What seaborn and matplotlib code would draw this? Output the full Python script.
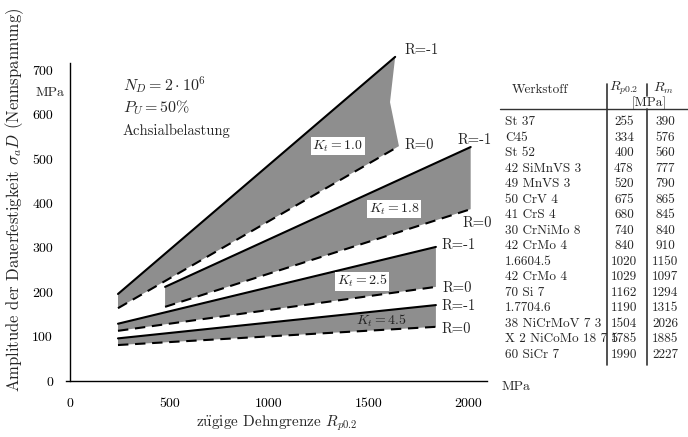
import matplotlib
matplotlib.use("Agg")
import matplotlib.pyplot as plt
import seaborn as sns
import numpy as np
import pandas as pd

# ---------------- data ----------------
kt_labels = ["1.0", "1.8", "2.5", "4.5"]

# R=-1 (upper, solid) lines
up_x = [[240, 1635], [477, 2015], [240, 1840], [240, 1840]]
up_y = [[196, 730], [212, 527], [129, 302], [96, 171]]
# R=0 (lower, dashed) lines
lo_x = [[240, 1654], [477, 2015], [240, 1840], [240, 1840]]
lo_y = [[164, 529], [167, 387], [113, 212], [81, 122]]
# extra vertex on right edge of Kt=1.0 band
kink_x = [1609]
kink_y = [628]

werkstoff = ["St 37", "C45", "St 52", "42 SiMnVS 3", "49 MnVS 3", "50 CrV 4",
             "41 CrS 4", "30 CrNiMo 8", "42 CrMo 4", "1.6604.5", "42 CrMo 4",
             "70 Si 7", "1.7704.6", "38 NiCrMoV 7 3", "X 2 NiCoMo 18 7 5",
             "60 SiCr 7"]
rp02 = ["255", "334", "400", "478", "520", "675", "680", "740", "840", "1020",
        "1029", "1162", "1190", "1504", "1785", "1990"]
rm = ["390", "576", "560", "777", "790", "865", "845", "840", "910", "1150",
      "1097", "1294", "1315", "2026", "1885", "2227"]

x_ticks = [0, 500, 1000, 1500, 2000]
y_ticks = [0, 100, 200, 300, 400, 500, 600, 700]

# ---------------- style ----------------
sns.set_theme(style="white")
plt.rcParams["font.family"] = ["cmr10", "DejaVu Serif"]
plt.rcParams["mathtext.fontset"] = "cm"
plt.rcParams["axes.formatter.use_mathtext"] = True
plt.rcParams["axes.unicode_minus"] = False

W, H = 688, 437
fig = plt.figure(figsize=(W / 100, H / 100), dpi=100)

def fx(px):
    return px / W

def fy(py):
    return 1 - py / H

# pixel mapping: x px = 70.3 + 0.1987*x ; y px = 381 - 0.444*y
sx, sy = 0.1987, 0.444
xlo, xhi = -22, 2097
ylo, yhi = -22.5, 760
x0p = 70.3 + sx * xlo
x1p = 70.3 + sx * xhi
yb = 381 - sy * ylo
yt = 381 - sy * yhi
ax = fig.add_axes([fx(x0p), fy(yb), (x1p - x0p) / W, (yb - yt) / H])
ax.set_xlim(xlo, xhi)
ax.set_ylim(ylo, yhi)

fill_col = "#8e8e8e"
for i in range(len(kt_labels)):
    ux, uy = up_x[i], up_y[i]
    lx, ly = lo_x[i], lo_y[i]
    if i == 0:
        px = ux + kink_x + lx[::-1]
        py = uy + kink_y + ly[::-1]
    else:
        px = ux + lx[::-1]
        py = uy + ly[::-1]
    ax.fill(px, py, color=fill_col, lw=0, zorder=1)
    sns.lineplot(x=ux, y=uy, ax=ax, color="black", lw=1.5, zorder=3)
    sns.lineplot(x=lx, y=ly, ax=ax, color="black", lw=1.5, zorder=3,
                 dashes=False, linestyle=(0, (5, 3.2)))

# spines
for s in ["top", "right"]:
    ax.spines[s].set_visible(False)
ax.spines["left"].set_position(("data", 0))
ax.spines["bottom"].set_position(("data", 0))
ax.spines["left"].set_bounds(0, 716)
ax.spines["bottom"].set_bounds(xlo, xhi)
for s in ["left", "bottom"]:
    ax.spines[s].set_color("black")
    ax.spines[s].set_linewidth(1.0)

ax.set_xticks(x_ticks)
ax.set_yticks(y_ticks)
ax.set_xticklabels([str(v) for v in x_ticks])
ax.set_yticklabels([str(v) for v in y_ticks])
ax.tick_params(axis="both", direction="inout", length=7, width=1.0,
               colors="black", labelsize=10)
ax.tick_params(axis="y", pad=9)
ax.tick_params(axis="x", pad=9)
ax.patch.set_alpha(0)

# labels on curves
lab_fs = 10.5
r_labels = [
    (1684, 745, "R=-1"), (1684, 531, "R=0"),
    (1951, 543, "R=-1"), (1976, 356, "R=0"),
    (1870, 306, "R=-1"), (1875, 209, "R=0"),
    (1870, 169, "R=-1"), (1870, 117, "R=0"),
]
for x, y, t in r_labels:
    ax.text(x, y, t, ha="left", va="center", fontsize=lab_fs, zorder=5)

kt_pos = [(1347, 529, True), (1630, 387, True), (1468, 225, True), (1564, 135, False)]
for (x, y, box), k in zip(kt_pos, kt_labels):
    kw = {}
    if box:
        kw["bbox"] = dict(facecolor="white", edgecolor="none", pad=1.0)
    ax.text(x, y, r"$K_t = %s$" % k, ha="center", va="center", fontsize=10,
            color="#222222", zorder=6, **kw)

# annotations
fig.text(fx(123), fy(85), r"$N_D = 2\cdot 10^6$", ha="left", va="center", fontsize=11.5)
fig.text(fx(123), fy(108), r"$P_U = 50\%$", ha="left", va="center", fontsize=11.5)
fig.text(fx(123), fy(131), "Achsialbelastung", ha="left", va="center", fontsize=10.5)

# axis titles
fig.text(fx(15), fy(200), r"Amplitude der Dauerfestigkeit $\sigma_a D$ (Nennspannung)",
         rotation=90, ha="center", va="center", fontsize=12)
fig.text(fx(50), fy(93), "MPa", ha="center", va="center", fontsize=10)
fig.text(fx(277), fy(423), r"z$\ddot{\mathrm{u}}$gige Dehngrenze $R_{p0.2}$",
         ha="center", va="center", fontsize=11)
fig.text(fx(502), fy(387), "MPa", ha="left", va="center", fontsize=10)

# table
tfs = 9.5
fig.text(fx(540), fy(90), "Werkstoff", ha="center", va="center", fontsize=tfs)
fig.text(fx(624), fy(88), r"$R_{p0.2}$", ha="center", va="center", fontsize=tfs + 0.5)
fig.text(fx(663), fy(88), r"$R_m$", ha="center", va="center", fontsize=tfs + 0.5)
fig.text(fx(649), fy(103), "[MPa]", ha="center", va="center", fontsize=tfs)
row0, dy = 122, 15.5
for i, (w, a, b) in enumerate(zip(werkstoff, rp02, rm)):
    y = row0 + i * dy
    fig.text(fx(505), fy(y), w, ha="left", va="center", fontsize=tfs)
    fig.text(fx(624), fy(y), a, ha="center", va="center", fontsize=tfs)
    fig.text(fx(665), fy(y), b, ha="center", va="center", fontsize=tfs)

lc = "#333333"
fig.add_artist(plt.Line2D([fx(607), fx(607)], [fy(84), fy(365)], color=lc, lw=1.2))
fig.add_artist(plt.Line2D([fx(647), fx(647)], [fy(84), fy(96)], color=lc, lw=1.2))
fig.add_artist(plt.Line2D([fx(647), fx(647)], [fy(109), fy(365)], color=lc, lw=1.2))
fig.add_artist(plt.Line2D([fx(500), fx(688)], [fy(109), fy(109)], color=lc, lw=1.0))

fig.savefig("out.png", dpi=100)
